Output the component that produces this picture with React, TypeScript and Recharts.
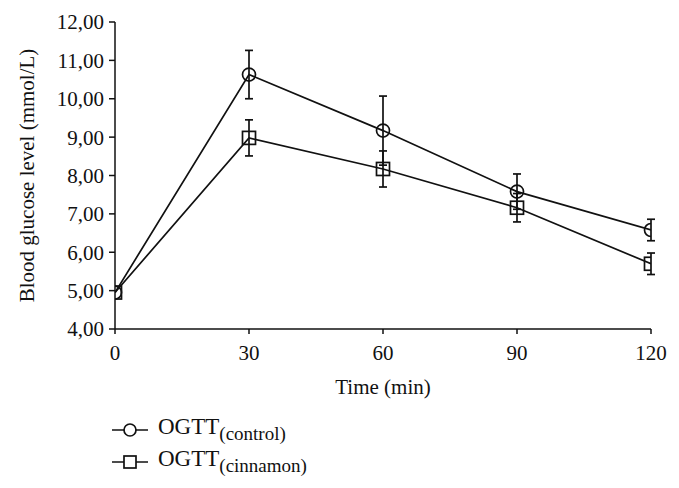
import { LineChart, Line, XAxis, YAxis, ErrorBar, Legend, Label } from 'recharts'

const times = [0, 30, 60, 90, 120]
const controlMeans = [4.95, 10.63, 9.17, 7.58, 6.58]
const controlSd = [0, 0.63, 0.9, 0.46, 0.28]
const cinnamonMeans = [4.95, 8.98, 8.17, 7.16, 5.7]
const cinnamonSd = [0, 0.47, 0.47, 0.37, 0.28]
const yTicks = [4, 5, 6, 7, 8, 9, 10, 11, 12]

const data = times.map((t, i) => ({
  time: t,
  control: controlMeans[i],
  controlErr: controlSd[i],
  cinnamon: cinnamonMeans[i],
  cinnamonErr: cinnamonSd[i],
}))

const FONT = '"Liberation Serif", "Times New Roman", serif'
const INK = '#111'

const SquareDot = (props: { cx?: number; cy?: number; index?: number }) => {
  const { cx, cy, index } = props
  if (cx == null || cy == null) return null
  const s = 13
  return <rect key={`sq-${index}`} x={cx - s / 2} y={cy - s / 2} width={s} height={s} fill="none" stroke={INK} strokeWidth={1.7} />
}

const legendItems = [
  { name: 'OGTT', sub: '(control)', marker: 'circle' },
  { name: 'OGTT', sub: '(cinnamon)', marker: 'square' },
]

const renderLegend = () => (
  <div style={{ fontFamily: FONT, color: INK }}>
    {legendItems.map((it, i) => (
      <div key={i} style={{ display: 'flex', alignItems: 'center', height: 32 }}>
        <svg width={36} height={16} style={{ marginRight: 10 }}>
          <line x1={0} y1={8} x2={36} y2={8} stroke={INK} strokeWidth={1.7} />
          {it.marker === 'circle'
            ? <circle cx={18} cy={8} r={6} fill="#fff" stroke={INK} strokeWidth={1.7} />
            : <rect x={12} y={2} width={12} height={12} fill="#fff" stroke={INK} strokeWidth={1.7} />}
        </svg>
        <span style={{ fontSize: 23, lineHeight: '24px' }}>
          {it.name}
          <sub style={{ fontSize: 19 }}>{it.sub}</sub>
        </span>
      </div>
    ))}
  </div>
)

export default function App() {
  return (
    <div style={{ position: 'absolute', left: 0, top: 0, width: 679, height: 488, background: '#fff' }}>
      <LineChart width={679} height={488} data={data} margin={{ top: 22, right: 28, left: 40, bottom: 29 }}>
        <XAxis
          dataKey="time"
          type="number"
          domain={[0, 120]}
          ticks={times}
          allowDataOverflow
          stroke={INK}
          strokeWidth={1.5}
          tickSize={5}
          tickMargin={11}
          height={66}
          tick={{ fontSize: 21, fill: INK, fontFamily: FONT }}
        >
          <Label value="Time (min)" position="insideBottom" offset={1} style={{ fontSize: 21, fill: INK, fontFamily: FONT }} />
        </XAxis>
        <YAxis
          domain={[4, 12]}
          ticks={yTicks}
          interval={0}
          stroke={INK}
          strokeWidth={1.5}
          tickSize={6}
          tickMargin={5}
          width={75}
          tickFormatter={(v: number) => v.toFixed(2).replace('.', ',')}
          tick={{ fontSize: 21, fill: INK, fontFamily: FONT }}
        >
          <Label value="Blood glucose level (mmol/L)" angle={-90} position="insideLeft" offset={-13}
            style={{ textAnchor: 'middle', fontSize: 21, fill: INK, fontFamily: FONT }} />
        </YAxis>
        <Line dataKey="control" stroke={INK} strokeWidth={1.7} isAnimationActive={false}
          dot={{ r: 6.5, fill: 'none', stroke: INK, strokeWidth: 1.7 }} activeDot={false}>
          <ErrorBar dataKey="controlErr" direction="y" width={4} stroke={INK} strokeWidth={1.7} isAnimationActive={false} />
        </Line>
        <Line dataKey="cinnamon" stroke={INK} strokeWidth={1.7} isAnimationActive={false}
          dot={<SquareDot />} activeDot={false}>
          <ErrorBar dataKey="cinnamonErr" direction="y" width={4} stroke={INK} strokeWidth={1.7} isAnimationActive={false} />
        </Line>
        <Legend content={renderLegend} wrapperStyle={{ left: 112, top: 414, width: 320, bottom: 'auto' }} />
      </LineChart>
    </div>
  )
}
